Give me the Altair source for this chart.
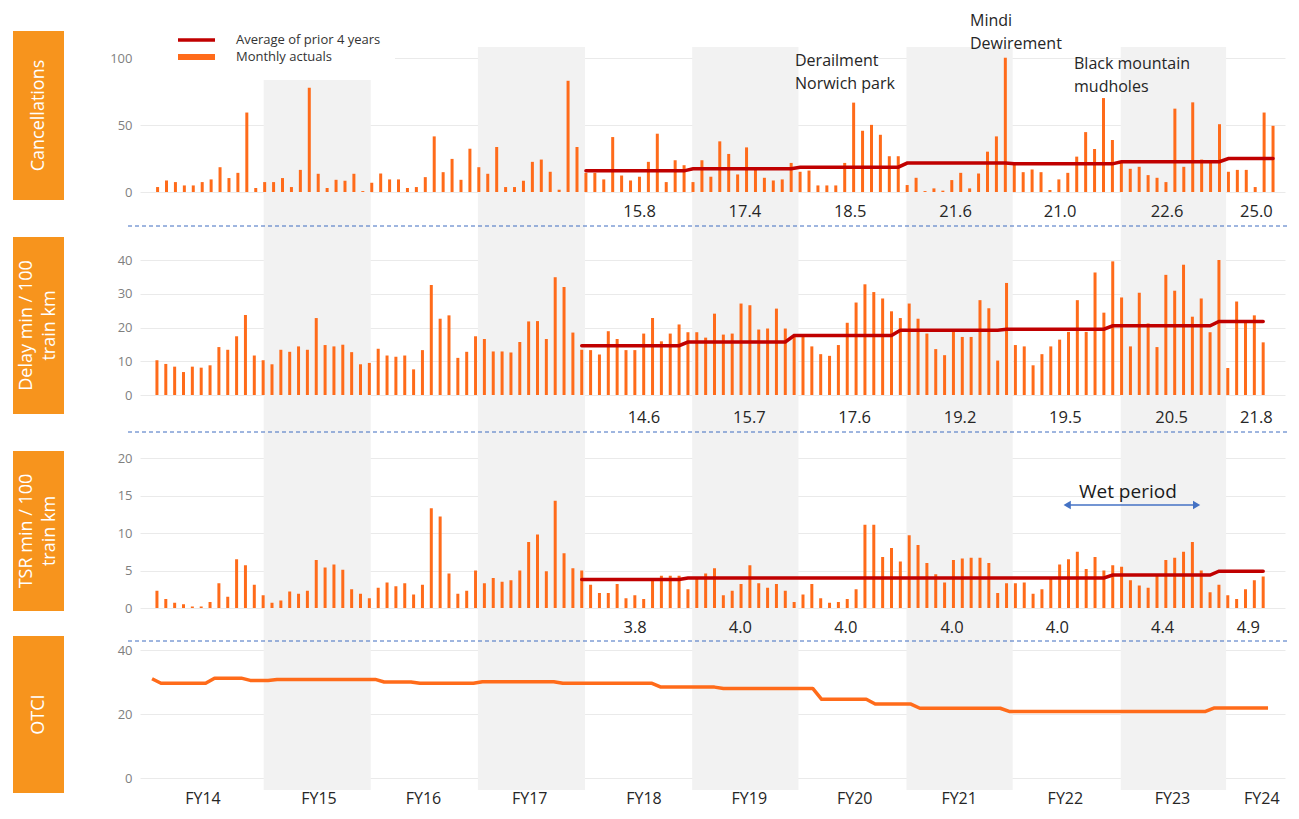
import altair as alt
import pandas as pd

ORANGE = "#FF6B1A"
RED = "#C00000"
BOX = "#F7941D"
FONT = "Open Sans"

months = list(range(126))

cancellations = [3.7, 8.6, 7.4, 4.9, 4.9, 7.4, 9.4, 18.5, 10.4, 14.3, 59.3, 3.0,
                 7.4, 7.4, 10.4, 3.7, 16.5, 77.8, 13.6, 3.0, 9.1, 8.4, 13.6, 0.7,
                 6.9, 13.8, 9.4, 9.4, 3.0, 3.7, 11.1, 41.5, 14.8, 24.7, 9.1, 32.3,
                 18.5, 13.6, 33.6, 3.7, 3.7, 8.4, 22.5, 24.2, 15.1, 1.7, 83.0, 33.6,
                 14.3, 14.3, 9.4, 41.0, 12.3, 8.6, 11.4, 22.5, 43.5, 7.4, 23.7, 20.0,
                 7.4, 23.7, 11.4, 37.8, 28.4, 13.1, 33.3, 16.8, 10.6, 8.6, 9.4, 21.7,
                 15.1, 16.0, 4.9, 4.9, 4.9, 21.7, 66.7, 45.7, 50.1, 42.7, 26.7, 26.7,
                 5.2, 10.6, 0.7, 2.7, 1.0, 8.9, 14.3, 2.7, 13.8, 30.1, 41.5, 100.2,
                 21.7, 14.8, 16.8, 14.8, 1.5, 9.4, 14.3, 26.4, 44.7, 32.1, 70.1, 38.8,
                 21.7, 17.3, 18.8, 12.6, 10.6, 7.4, 62.2, 18.8, 66.9, 24.2, 22.2, 50.6,
                 15.1, 16.5, 16.5, 3.7, 59.3, 49.4]

delay = [10.3, 9.2, 8.4, 6.8, 8.4, 8.1, 8.8, 14.2, 13.4, 17.4, 23.7, 11.7,
         10.3, 9.1, 13.4, 12.8, 14.4, 13.4, 22.8, 14.8, 14.4, 14.9, 12.7, 9.1,
         9.5, 13.7, 11.7, 11.3, 11.7, 7.6, 13.3, 32.6, 22.6, 23.6, 11.0, 12.8,
         17.4, 16.6, 12.9, 12.9, 12.6, 15.7, 21.8, 21.9, 16.6, 34.9, 32.0, 18.5,
         13.4, 13.3, 12.0, 18.9, 16.6, 13.3, 13.3, 18.2, 22.8, 15.9, 18.2, 20.9,
         18.6, 18.6, 17.0, 24.1, 17.9, 18.2, 27.1, 26.6, 19.4, 19.7, 25.6, 19.7,
         17.2, 17.2, 14.4, 12.1, 11.6, 14.8, 21.4, 27.4, 32.8, 30.5, 28.6, 24.8,
         22.8, 27.1, 22.6, 18.2, 13.6, 11.8, 18.7, 17.2, 17.2, 28.1, 25.7, 10.2,
         33.2, 14.8, 14.4, 8.8, 12.1, 14.4, 16.4, 18.7, 28.1, 18.7, 36.3, 24.4,
         39.6, 28.9, 14.4, 30.3, 21.2, 14.2, 35.6, 30.9, 38.6, 23.2, 28.6, 18.6,
         40.0, 8.0, 27.7, 22.2, 23.6, 15.6]

tsr = [2.3, 1.2, 0.7, 0.5, 0.2, 0.2, 0.8, 3.3, 1.5, 6.5, 5.7, 3.1,
       1.7, 0.7, 1.0, 2.2, 1.9, 2.3, 6.4, 5.4, 5.8, 5.1, 2.5, 1.9,
       1.3, 2.7, 3.4, 2.9, 3.3, 1.8, 3.1, 13.3, 12.2, 4.6, 1.9, 2.3,
       5.0, 3.3, 4.0, 3.5, 3.7, 5.0, 8.8, 9.8, 4.9, 14.3, 7.3, 5.3,
       5.0, 3.1, 2.0, 2.0, 3.2, 1.3, 1.7, 1.2, 3.6, 4.3, 4.3, 4.3,
       2.5, 3.9, 4.6, 5.3, 1.7, 2.3, 3.2, 5.7, 3.3, 2.7, 3.2, 2.3,
       0.8, 1.8, 3.2, 1.3, 0.7, 0.8, 1.2, 2.5, 11.1, 11.1, 6.8, 8.0,
       6.2, 9.7, 8.4, 6.0, 4.5, 3.4, 6.4, 6.6, 6.7, 6.7, 6.0, 2.0,
       3.3, 3.3, 3.4, 1.9, 2.5, 3.9, 5.8, 6.5, 7.5, 5.2, 6.8, 5.0,
       5.7, 5.5, 3.7, 3.0, 2.7, 4.3, 6.4, 6.7, 7.5, 8.8, 5.0, 2.1,
       3.1, 1.7, 1.2, 2.5, 3.7, 4.2]

otci = [31.0, 29.6, 29.6, 29.6, 29.6, 29.6, 29.6, 31.2, 31.2, 31.2, 31.2, 30.5,
        30.5, 30.5, 30.8, 30.8, 30.8, 30.8, 30.8, 30.8, 30.8, 30.8, 30.8, 30.8,
        30.8, 30.8, 30.0, 30.0, 30.0, 30.0, 29.6, 29.6, 29.6, 29.6, 29.6, 29.6,
        29.6, 30.1, 30.1, 30.1, 30.1, 30.1, 30.1, 30.1, 30.1, 30.1, 29.6, 29.6,
        29.6, 29.6, 29.6, 29.6, 29.6, 29.6, 29.6, 29.6, 29.6, 28.4, 28.4, 28.4,
        28.4, 28.4, 28.4, 28.4, 28.0, 28.0, 28.0, 28.0, 28.0, 28.0, 28.0, 28.0,
        28.0, 28.0, 28.0, 24.6, 24.6, 24.6, 24.6, 24.6, 24.6, 23.1, 23.1, 23.1,
        23.1, 23.1, 21.8, 21.8, 21.8, 21.8, 21.8, 21.8, 21.8, 21.8, 21.8, 21.8,
        20.8, 20.8, 20.8, 20.8, 20.8, 20.8, 20.8, 20.8, 20.8, 20.8, 20.8, 20.8,
        20.8, 20.8, 20.8, 20.8, 20.8, 20.8, 20.8, 20.8, 20.8, 20.8, 20.8, 21.9,
        21.9, 21.9, 21.9, 21.9, 21.9, 21.9]

fy_labels = ["FY14", "FY15", "FY16", "FY17", "FY18", "FY19", "FY20", "FY21", "FY22", "FY23", "FY24"]
fy_label_pos = [5.7, 18.7, 30.4, 42.3, 55.1, 66.9, 78.7, 90.4, 102.3, 114.3, 124.3]

canc_avg = [15.8, 17.4, 18.5, 21.6, 21.0, 22.6, 25.0]
delay_avg = [14.6, 15.7, 17.6, 19.2, 19.5, 20.5, 21.8]
tsr_avg = [3.8, 4.0, 4.0, 4.0, 4.0, 4.4, 4.9]
canc_label_pos = [54.6, 66.4, 78.2, 90.0, 101.7, 113.7, 123.7]
delay_label_pos = [55.1, 66.9, 78.7, 90.5, 102.3, 114.2, 123.7]
tsr_label_pos = [54.1, 65.9, 77.7, 89.6, 101.4, 113.2, 122.8]
avg_start_month = 48

band_start = [12.5, 36.5, 60.5, 84.5, 108.5]
band_end = [24.5, 48.5, 72.4, 96.4, 120.3]

wet_from, wet_to = 102.5, 117.0
wet_label_pos = 109.3

df = pd.DataFrame({"i": months, "canc": cancellations, "delay": delay, "tsr": tsr, "otci": otci})


def step_avg(vals):
    rows = []
    for k, v in enumerate(vals):
        for m in range(avg_start_month + 12 * k, min(avg_start_month + 12 * k + 12, len(months))):
            rows.append({"i": m, "v": v})
    return pd.DataFrame(rows)


W, H = 1145, 782
XS = alt.Scale(domain=[-1.35, 126.9], nice=False, zero=False)
XS_CANC = alt.Scale(domain=[-1.41, 125.78], nice=False, zero=False)


def X(field, scale=XS):
    return alt.X(f"{field}:Q", scale=scale, axis=None)


one = pd.DataFrame({"a": [0]})


def txt(text, x, y, size=15, color="#262626", align="left", angle=0, lh=23):
    return alt.Chart(one).mark_text(
        text=text, align=align, baseline="middle", fontSize=size, font=FONT,
        color=color, angle=angle, lineBreak="\n", lineHeight=lh
    ).encode(x=x, y=alt.value(y))


def panel(col, avg_vals, domain, rng, ticks, xs=XS, line_color=None):
    axis = alt.Axis(orient="left", values=ticks, title=None, grid=True, gridColor="#eaeaea",
                    gridWidth=1, domain=False, ticks=False, labelColor="#7f7f7f",
                    labelFontSize=13, labelPadding=8, labelFont=FONT)
    ys = alt.Scale(domain=domain, range=rng, nice=False, zero=False)
    layers = []
    if line_color is None:
        layers.append(alt.Chart(df).mark_bar(size=3, color=ORANGE).encode(
            x=X("i", xs), y=alt.Y(f"{col}:Q", scale=ys, axis=axis), y2=alt.datum(0)))
    else:
        layers.append(alt.Chart(df).mark_line(color=line_color, strokeWidth=3.5, strokeJoin="round").encode(
            x=X("i", xs), y=alt.Y(f"{col}:Q", scale=ys, axis=axis)))
    if avg_vals:
        layers.append(alt.Chart(step_avg(avg_vals)).mark_line(color=RED, strokeWidth=3.5, strokeCap="round").encode(
            x=X("i", xs), y=alt.Y("v:Q", scale=ys, axis=axis)))
    return alt.layer(*layers)


def avg_labels(vals, pos, y):
    lab = pd.DataFrame({"p": pos, "t": [f"{v:.1f}" for v in vals]})
    return alt.Chart(lab).mark_text(fontSize=16.5, font=FONT, color="#262626", baseline="middle").encode(
        x=X("p"), y=alt.value(y), text="t:N")


bands = alt.Chart(pd.DataFrame({"s": band_start, "e": band_end})).mark_rect(color="#f2f2f2").encode(
    x=X("s"), x2="e:Q", y=alt.value(39), y2=alt.value(782))

legend_bg = alt.Chart(one).mark_rect(color="white").encode(
    x=alt.value(0), x2=alt.value(255), y=alt.value(20), y2=alt.value(72))
leg1 = alt.Chart(one).mark_rule(color=RED, strokeWidth=3.5).encode(
    x=alt.value(38), x2=alt.value(75), y=alt.value(32))
leg2 = alt.Chart(one).mark_rule(color=ORANGE, strokeWidth=6).encode(
    x=alt.value(38), x2=alt.value(75), y=alt.value(49))
leg_t1 = txt("Average of prior 4 years", alt.value(96), 32, size=13, color="#333333")
leg_t2 = txt("Monthly actuals", alt.value(96), 49, size=13, color="#333333")

boxes = []
for lines, (y0, y1) in [(["Cancellations"], (23, 192)),
                        (["Delay min / 100", "train km"], (229, 406)),
                        (["TSR min / 100", "train km"], (443, 603)),
                        (["OTCI"], (628, 785))]:
    boxes.append(alt.Chart(one).mark_rect(color=BOX).encode(
        x=alt.value(-127), x2=alt.value(-76), y=alt.value(y0), y2=alt.value(y1)))
    n = len(lines)
    for k, line in enumerate(lines):
        xc = -101.5 + (k - (n - 1) / 2) * 23
        boxes.append(txt(line, alt.value(xc), (y0 + y1) / 2, size=18, color="white",
                         align="center", angle=270))

dashes = [alt.Chart(one).mark_rule(color="#3F6DC0", strokeWidth=1, strokeDash=[4, 3]).encode(
    x=alt.value(-12), x2=alt.value(1148), y=alt.value(yy)) for yy in (218, 424, 633)]

p1 = panel("canc", canc_avg, [0, 100], [184, 50], [0, 50, 100], xs=XS_CANC)
p2 = panel("delay", delay_avg, [0, 40], [387, 252], [0, 10, 20, 30, 40])
p3 = panel("tsr", tsr_avg, [0, 20], [600, 450], [0, 5, 10, 15, 20])
p4 = panel("otci", None, [0, 40], [770, 642], [0, 20, 40], line_color=ORANGE)

l1 = avg_labels(canc_avg, canc_label_pos, 204)
l2 = avg_labels(delay_avg, delay_label_pos, 410)
l3 = avg_labels(tsr_avg, tsr_label_pos, 620)

ann1 = txt("Derailment\nNorwich park", alt.value(655), 53, size=16)
ann2 = txt("Mindi\nDewirement", alt.value(830), 13, size=16)
ann3 = txt("Black mountain\nmudholes", alt.value(934), 56, size=16)

wet_txt = alt.Chart(pd.DataFrame({"x": [wet_label_pos]})).mark_text(
    text="Wet period", fontSize=19, font=FONT, color="#1a1a1a", baseline="middle").encode(
    x=X("x"), y=alt.value(484))
wet_line = alt.Chart(pd.DataFrame({"a": [wet_from], "b": [wet_to]})).mark_rule(
    color="#4472C4", strokeWidth=1.5).encode(x=X("a"), x2="b:Q", y=alt.value(497))
wet_heads = alt.Chart(pd.DataFrame({"x": [wet_from, wet_to], "s": ["triangle-left", "triangle-right"]})).mark_point(
    filled=True, size=70, color="#4472C4", opacity=1).encode(
    x=X("x"), y=alt.value(497), shape=alt.Shape("s:N", scale=None, legend=None))

fy = alt.Chart(pd.DataFrame({"p": fy_label_pos, "t": fy_labels})).mark_text(
    fontSize=16, font=FONT, color="#262626", baseline="middle").encode(
    x=X("p"), y=alt.value(791), text="t:N")

chart = alt.layer(
    bands, legend_bg, *boxes, *dashes, p1, p2, p3, p4, l1, l2, l3,
    leg1, leg2, leg_t1, leg_t2, ann1, ann2, ann3, wet_line, wet_heads, wet_txt, fy
).resolve_scale(y="independent", x="independent").properties(
    width=W, height=H,
    autosize=alt.AutoSizeParams(type="none"),
    padding={"left": 132, "top": 0, "right": 5, "bottom": 21},
    background="white",
).configure_view(stroke=None)

chart.save("out.html", embed_options={"renderer": "svg", "actions": False})
